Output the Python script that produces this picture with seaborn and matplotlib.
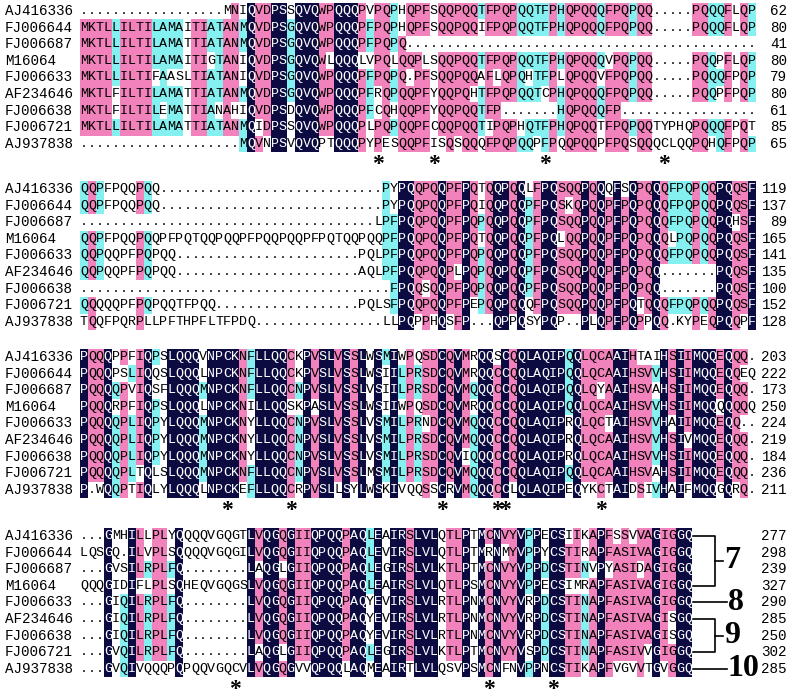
import numpy as np
import matplotlib
matplotlib.use("Agg")
import matplotlib.pyplot as plt
import seaborn as sns
from matplotlib.colors import ListedColormap

names = ["AJ416336", "FJ006644", "FJ006687", "M16064", "FJ006633",
         "AF234646", "FJ006638", "FJ006721", "AJ937838"]

block1 = [
    ".........." "........" "MNIQVDPSSQVQWPQQQPVPQP" "HQPFSQQPQQTFPQPQQTFPHQPQQQFPQPQQ.....PQQQFLQP",
    "MKTLLILTILAMAITIATANMQVDPSGQVQWPQQQPFPQP" "HQPFSQQPQQIFPQPQQTFPHQPQQQFPQPQQ.....PQQQFLQP",
    "MKTLLILTILAMATTIATANMQVDPSGQVQWPQQQPFPQP" "Q" ".........." ".........." ".........." ".........." "....",
    "MKTLLILTILAMAITIGTANIQVDPSGQVQWLQQQLVPQL" "QQPLSQQPQQTFPQPQQTFPHQPQQQVPQPQQ.....PQQPFLQP",
    "MKTLLILTIFAASLTIATANIQVDPSGQVQWPQQQPFPQP" "Q.PFSQQPQQAFLQPQHTFPLQPQQVFPQPQQ.....PQQQFPQP",
    "MKTLFILTILAMATTIATANMQVDPSGQVQWPQQQPFRQP" "QQPFYQQPQHTFPQPQQTCPHQPQQQFPQPQQ.....PQQPFPQP",
    "MKTLFILTILEMATTIANAHIQVDPSDQVQWPQQQPFCQH" "QQPFYQQPQQTFP.......HQPQQQFP" ".........." ".......",
    "MKTLLILTILAMATTIATANMQIDPSSQVQWPQQQPLPQP" "QQPFCQQPQQTIPQPHQTFPHQPQQTFPQPQQTYPHQPQQQFPQT",
    ".........." ".........." "MQVNPSVQVQPTQQQPYPES" "QQPFISQSQQQFPQPQQPFPQQPQQPFPQSQQQCLQQPQHQFPQP",
]

block2 = [
    "QQPFPQQPQQ" ".........." ".........." "........" "PY" "PQQPQQPFPQTQQPQQLFPQSQQPQQQFSQPQQQFPQPQQPQQSF",
    "QQPFPQQPQQ" ".........." ".........." "........" "PY" "PQQPQQPFPQIQQPQQPFPQSKQPQQPFPQPQQQFPQPQQPQQSF",
    ".........." ".........." ".........." "......." "LPF" "PQQPQQPFPQPQQPQQPFPQSQQPQQPFPQPQQQFPQPQQPQHSF",
    "QQPFPQQPQQPFPQTQQPQQPFPQQPQQPFPQTQQPQQPF" "PQQPQQPFPQTQQPQQPFPQLQQPQQPFPQPQQQLPQPQQPQQSF",
    "QQPQQPFPQPQQ" ".........." ".........." "..." "PQLPF" "PQQPQQPFPQPQQPQQPFPQSQQPQQPFPQPQQQFPQPQQPQQSF",
    "QQPQQPFPQPQQ" ".........." ".........." "..." "AQLPF" "PQQPQQPLPQPQQPQQPFPQSQQPQQPFPQPQQ.......PQQSF",
    ".........." ".........." ".........." "........." "F" "PQQSQQPFPQPQQPQQPFPQSQQPQQPFPQPQQ.......PQQSF",
    "QQQQQPFPQPQQTFPQQ" ".........." "........" "PQLSF" "PQQPQQPFPEPQQPQQQFPQSQQPQQPFPQTQQQFPQPQQPQQSF",
    "TQQFPQRPLLPFTHPFLTFPDQ" ".........." "......" "LL" "PQPPHQSFP...QPPQSYPQP..PLQPFPQPPQQ.KYPEQPQQPF",
]

block3 = [
    "PQQQPPFIQPSLQQQVNPCKNFLLQQCKPVSLVSSLWSMI" "WPQSDCQVMRQQSCQQLAQIPQQLQCAAIHTAIHSIIMQQEQQQ.",
    "PQQQPSLIQQSLQQQLNPCKNFLLQQCKPVSLVSSLWSII" "LPRSDCQVMRQQCCQQLAQIPQQLQCAAIHSVVHSIIMQQEQQEQ",
    "PQQQQPVIQSFLQQQMNPCKNFLLQQCNPVSLVSSLVSII" "LPRSDCQVMQQQCCQQLAQIPQQLQYAAIHSVAHSIIMQQEQQQ.",
    "PQQQRPFIQPSLQQQLNPCKNILLQQSKPASLVSSLWSII" "WPQSDCQVMRQQCCQQLAQIPQQLQCAAIHSVVHSIIMQQQQQQQ",
    "PQQQQPLIQPYLQQQMNPCKNYLLQQCNPVSLVSSLVSMI" "LPRNDCQVMQQQCCQQLAQIPRQLQCTAIHSVVHAIIMQQEQQ..",
    "PQQQQPLIQPYLQQQMNPCKNYLLQQCNPVSLVSSLVSMI" "LPRSDCQVMQQQCCQQLAQIPRQLQCAAIHSVVHSIVMQQEQQQ.",
    "PQQQQPLIQPYLQQQMNPCKNYLLQQCNPVSLVSSLVSMI" "LPRSDCQVIQQQCCQQLAQIPRQLQCAAIHSVVHSIIMQQEQQQ.",
    "PQQQQPLTQLSLQQQMNPCKNFLLQQCNPVSLVSSLMSMI" "LPRSDCQVMQQQCCQQLAQIPQQLQCAAIHSVAHSIIMQQEQQQ.",
    "P.WQQPTIQLYLQQQLNPCKEFLLQQCRPVSLLSYLWSKI" "VQQSSCRVMQQQCCLQLAQIPEQYKCTAIDSIVHAIFMQQGQRQ.",
]

block4 = [
    "...GMHILLPLYQQQQVGQGTLVQGQGIIQPQQPAQLEAI" "RSLVLQTLPTMCNVYVPPECSIIKAPFSSVVAGIGGQ",
    "LQSGQ.ILVPLSQQQQVGQGILVQGQGIIQPQQPAQLEVI" "RSLVLQTLPTMRNMYVPPYCSTIRAPFASIVAGIGGQ",
    "...GVSILRPLFQ........LAQGLGIIQPQQPAQLEGI" "RSLVLKTLPTMCNVYVPPDCSTINVPYASIDAGIGGQ",
    "QQQGIDIFLPLSQHEQVGQGSLVQGQGIIQPQQPAQLEAI" "RSLVLQTLPSMCNVYVPPECSIMRAPFASIVAGIGGQ",
    "...GIQILRPLFQ........LVQGQGIIQPQQPAQYEVI" "RSLVLRTLPNMCNVYVRPDCSTINAPFASIVAGIGGQ",
    "...GIQILRPLFQ........LVQGQGIIQPQQPAQYEVI" "RSLVLRTLPNMCNVYVRPDCSTINAPFASIVAGISGQ",
    "...GIQILRPLFQ........LVQGQGIIQPQQPAQYEVI" "RSLVLRTLPNMCNVYVRPDCSTINAPFASIVAGISGQ",
    "...GVQILRPLFQ........LAQGLGIIQPQQPAQLEGI" "RSLVLKTLPTMCNVYVSPDCSTINAPFASIVVGIGGQ",
    "...GVQIVQQQPQPQQVGQCVLVQGQGVVQPQQLAQMEAI" "RTLVLQSVPSMCNFNVPPNCSTIKAPFVGVVTGVGGQ",
]

blocks = [block1, block2, block3, block4]
# alignment columns (1-based) marked with an asterisk under each block
star_cols = [[38, 45, 59, 74], [], [19, 27, 46, 53, 54, 66], [20, 52, 60]]
# group labels on the right of the last block: (label, first row, last row)
groups = [("7", 0, 3), ("8", 4, 4), ("9", 5, 7), ("10", 8, 8)]

W, H = 794, 689
X0, CW, RH = 80, 7.95, 16.6
row1_y = [11, 189, 357, 536]

navy, pink, cyan = "#0b0b42", "#f282bb", "#84f0f0"
cmap = ListedColormap(["white", cyan, pink, navy])
mono = "Liberation Mono"


def conservation(rows):
    arr = np.array([list(r) for r in rows])
    lev = np.zeros(arr.shape, dtype=int)
    n = len(rows)
    for j in range(arr.shape[1]):
        col = [c for c in arr[:, j] if c != "."]
        if not col:
            continue
        vals, cnt = np.unique(col, return_counts=True)
        top, k = vals[cnt.argmax()], cnt.max()
        if k == n:
            lv = 3
        elif k / n >= 0.75:
            lv = 2
        elif k / n >= 0.5:
            lv = 1
        else:
            lv = 0
        lev[arr[:, j] == top, j] = lv
    return arr, lev


fig = plt.figure(figsize=(W / 100, H / 100), dpi=100)
fig.patch.set_facecolor("white")

totals = np.zeros(len(names), dtype=int)
for b, rows in enumerate(blocks):
    ncol = len(rows[0])
    for r in rows:
        assert len(r) == ncol, (b, r, len(r))
    arr, lev = conservation(rows)
    top = row1_y[b] - RH / 2
    ax = fig.add_axes([X0 / W, 1 - (top + 9 * RH) / H, ncol * CW / W, 9 * RH / H])
    sns.heatmap(lev, cmap=cmap, vmin=-0.5, vmax=3.5, annot=arr, fmt="",
                cbar=False, xticklabels=False, yticklabels=False, ax=ax,
                annot_kws=dict(fontsize=9.6, family=mono))
    for t, lv in zip(ax.texts, lev.flat):
        t.set_color("white" if lv == 3 else "black")

    for c in star_cols[b]:
        ax.text(c - 0.5, 9.75, "*", ha="center", va="center", fontsize=17,
                fontweight="bold", family="Liberation Serif", color="black")

    totals += np.array([sum(ch != "." for ch in r) for r in rows])
    for i, nm in enumerate(names):
        y = 1 - (row1_y[b] + i * RH) / H
        fig.text(5 / W, y, nm, ha="left", va="center", fontsize=10.3, family=mono)
        fig.text(787 / W, y, str(totals[i]), ha="right", va="center",
                 fontsize=10.3, family=mono)

    if b == len(blocks) - 1:
        xe = ncol
        xv = (715 - X0) / CW
        xl = (727 - X0) / CW
        for lab, r0, r1 in groups:
            if r1 > r0:
                ax.plot([xe, xv, xv, xe], [r0 + 0.5, r0 + 0.5, r1 + 0.5, r1 + 0.5],
                        color="black", lw=1.2, clip_on=False)
                ym = (r0 + r1) / 2 + 0.5
                ax.plot([xv, xv + 1], [ym, ym], color="black", lw=1.2, clip_on=False)
                xt = xv + 1.1
            else:
                ym = r0 + 0.5
                ax.plot([xe, xl], [ym, ym], color="black", lw=1.2, clip_on=False)
                xt = xl + 0.1
            ax.text(xt, ym, lab, ha="left", va="center", fontsize=23,
                    fontweight="bold", family="Liberation Serif", color="black")

fig.savefig("out.png", dpi=100, facecolor="white")
